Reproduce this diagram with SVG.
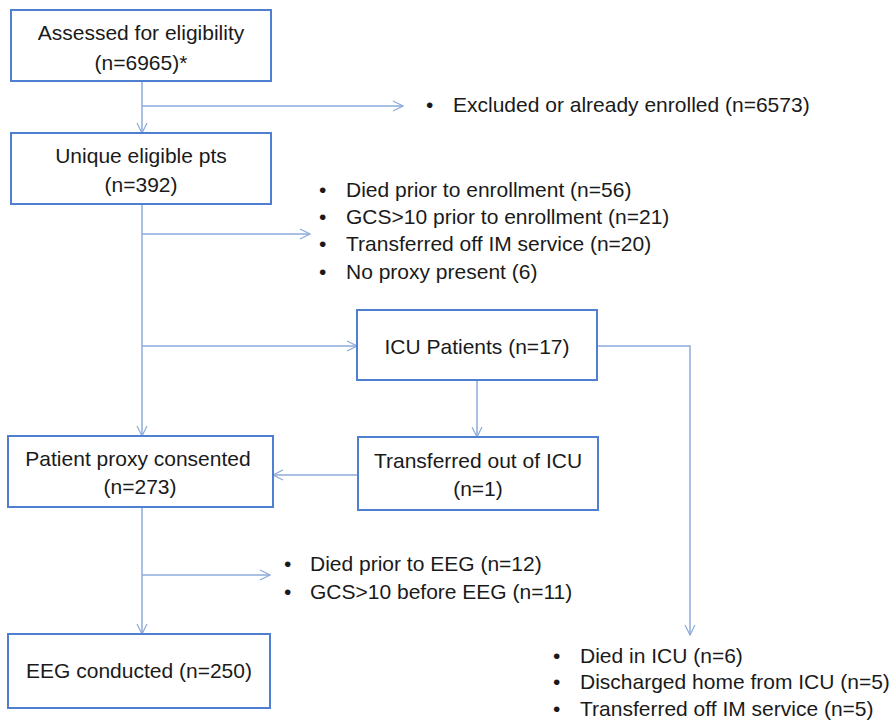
<svg xmlns="http://www.w3.org/2000/svg" width="894" height="725" viewBox="0 0 894 725">
<defs>
<marker id="arr" viewBox="0 0 12 12" refX="11" refY="6" markerWidth="12" markerHeight="12" markerUnits="userSpaceOnUse" orient="auto">
<path d="M1,1 L11,6 L1,11" fill="none" stroke="#8eaadb" stroke-width="1.2"/>
</marker>
<style>
.box{fill:#fff;stroke:#4f7fd0;stroke-width:2}
.t{font-family:"Liberation Sans",Arial,sans-serif;font-size:21px;fill:#1a1a1a}
.c{text-anchor:middle}
.ln{fill:none;stroke:#8eaadb;stroke-width:1.5}
</style>
</defs>
<rect width="894" height="725" fill="#fff"/>
<g id="connectors">
<path class="ln" d="M142,81 V133" marker-end="url(#arr)"/>
<path class="ln" d="M142,106 H403" marker-end="url(#arr)"/>
<path class="ln" d="M142,204 V436" marker-end="url(#arr)"/>
<path class="ln" d="M142,234 H310" marker-end="url(#arr)"/>
<path class="ln" d="M142,346 H357" marker-end="url(#arr)"/>
<path class="ln" d="M597,346 H690 V635" marker-end="url(#arr)"/>
<path class="ln" d="M477,380 V437" marker-end="url(#arr)"/>
<path class="ln" d="M358,475 H273" marker-end="url(#arr)"/>
<path class="ln" d="M142,507 V634" marker-end="url(#arr)"/>
<path class="ln" d="M142,575 H270" marker-end="url(#arr)"/>
</g>
<g id="assessed">
<rect class="box" x="11" y="10" width="260" height="71"/>
<text class="t c" x="141" y="40">Assessed for eligibility</text>
<text class="t c" x="141" y="70">(n=6965)*</text>
</g>
<g id="excluded">
<text class="t" x="426" y="112">•</text>
<text class="t" x="453" y="112">Excluded or already enrolled (n=6573)</text>
</g>
<g id="unique">
<rect class="box" x="11" y="133" width="260" height="71"/>
<text class="t c" x="141" y="163">Unique eligible pts</text>
<text class="t c" x="141" y="192">(n=392)</text>
</g>
<g id="excl2">
<text class="t" x="319" y="197">•</text><text class="t" x="346" y="197">Died prior to enrollment (n=56)</text>
<text class="t" x="319" y="224">•</text><text class="t" x="346" y="224">GCS&gt;10 prior to enrollment (n=21)</text>
<text class="t" x="319" y="251">•</text><text class="t" x="346" y="251">Transferred off IM service (n=20)</text>
<text class="t" x="319" y="279">•</text><text class="t" x="346" y="279">No proxy present (6)</text>
</g>
<g id="icu">
<rect class="box" x="357" y="310" width="240" height="70"/>
<text class="t c" x="477" y="354">ICU Patients (n=17)</text>
</g>
<g id="transferred">
<rect class="box" x="358" y="437" width="240" height="73"/>
<text class="t c" x="478" y="468">Transferred out of ICU</text>
<text class="t c" x="478" y="496">(n=1)</text>
</g>
<g id="consented">
<rect class="box" x="8" y="436" width="265" height="71"/>
<text class="t c" x="138" y="466">Patient proxy consented</text>
<text class="t c" x="140" y="494">(n=273)</text>
</g>
<g id="excl3">
<text class="t" x="284" y="571">•</text><text class="t" x="310" y="571">Died prior to EEG (n=12)</text>
<text class="t" x="284" y="599">•</text><text class="t" x="310" y="599">GCS&gt;10 before EEG (n=11)</text>
</g>
<g id="eeg">
<rect class="box" x="8" y="634" width="262" height="74"/>
<text class="t c" x="139" y="678">EEG conducted (n=250)</text>
</g>
<g id="icuout">
<text class="t" x="553" y="663">•</text><text class="t" x="580" y="663">Died in ICU (n=6)</text>
<text class="t" x="553" y="689">•</text><text class="t" x="580" y="689">Discharged home from ICU (n=5)</text>
<text class="t" x="553" y="716">•</text><text class="t" x="580" y="716">Transferred off IM service (n=5)</text>
</g>
</svg>
